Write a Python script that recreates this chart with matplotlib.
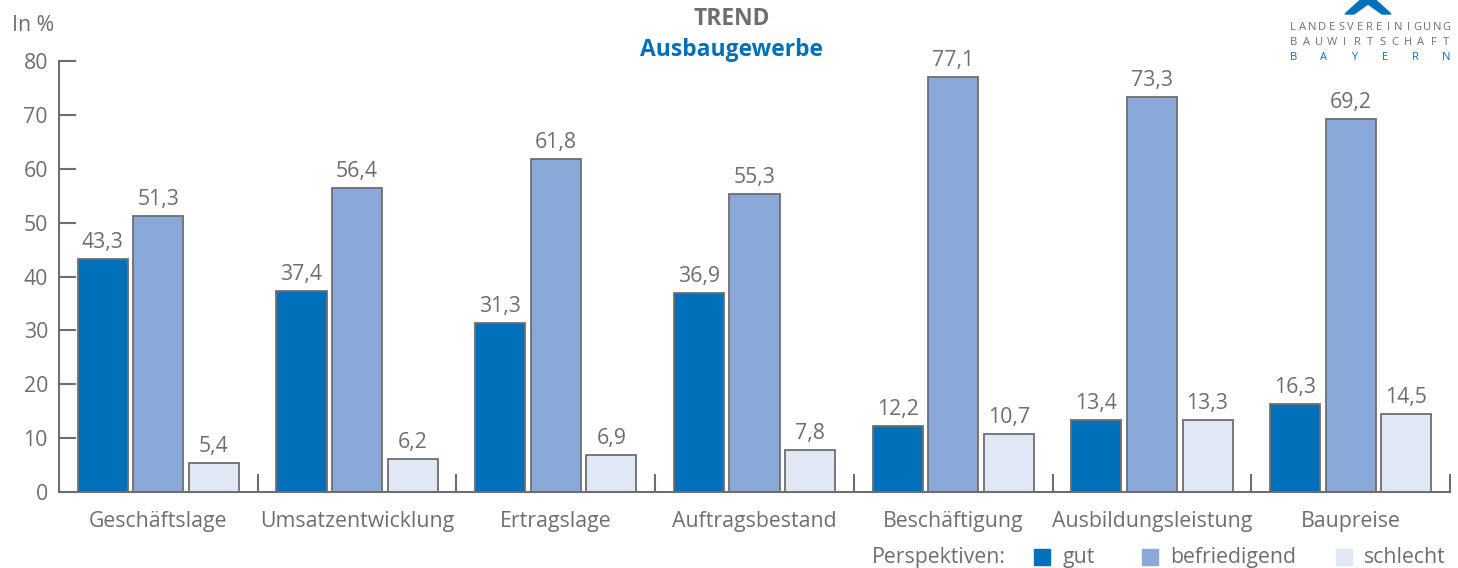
import matplotlib.pyplot as plt
import numpy as np
from matplotlib.patches import Polygon, Rectangle

plt.rcParams['font.family'] = ['Open Sans', 'DejaVu Sans']

# daten
kategorien = ['Geschäftslage', 'Umsatzentwicklung', 'Ertragslage', 'Auftragsbestand',
              'Beschäftigung', 'Ausbildungsleistung', 'Baupreise']
gut = [43.3, 37.4, 31.3, 36.9, 12.2, 13.4, 16.3]
befriedigend = [51.3, 56.4, 61.8, 55.3, 77.1, 73.3, 69.2]
schlecht = [5.4, 6.2, 6.9, 7.8, 10.7, 13.3, 14.5]
serien = ['gut', 'befriedigend', 'schlecht']
y_ticks = [0, 10, 20, 30, 40, 50, 60, 70, 80]

farben = ['#0070ba', '#8aa9d8', '#e1e8f5']
grau = '#6e6e70'
fs = 15.3

fig = plt.figure(figsize=(14.58, 5.68), dpi=100)
ax = fig.add_axes([0.0405, 0.1338, 0.9540, 0.7588])

x = np.arange(len(kategorien))
breite = 0.252
versatz = 0.28
for i, (werte, farbe) in enumerate(zip([gut, befriedigend, schlecht], farben)):
    pos = x + (i - 1) * versatz
    ax.bar(pos, werte, breite, color=farbe, edgecolor=grau, linewidth=1.3, zorder=2)
    for px, v in zip(pos, werte):
        ax.text(px, v + 1.1, f'{v:.1f}'.replace('.', ','), ha='center', va='bottom',
                fontsize=fs, color=grau)

ax.set_xlim(-0.5, len(kategorien) - 0.5)
ax.set_ylim(0, 80)
ax.set_yticks(y_ticks)
ax.tick_params(axis='y', direction='in', length=12, width=1.5, color=grau,
               labelcolor=grau, labelsize=fs, pad=8)
ax.set_xticks(x)
ax.set_xticklabels(kategorien)
ax.tick_params(axis='x', length=0, labelcolor=grau, labelsize=fs, pad=14)

# trennstriche zwischen den gruppen
for b in np.arange(0.5, len(kategorien), 1.0):
    ax.plot([b, b], [0, 3.2], color=grau, lw=1.5, clip_on=False, zorder=3)

for s in ['top', 'right']:
    ax.spines[s].set_visible(False)
for s in ['left', 'bottom']:
    ax.spines[s].set_color(grau)
    ax.spines[s].set_linewidth(1.5)

fig.text(0.008, 0.955, 'In %', fontsize=fs, color=grau, ha='left', va='center')

# titel
fig.text(0.502, 0.966, 'TREND', fontsize=16.5, fontweight='bold', color=grau,
         ha='center', va='center')
fig.text(0.502, 0.912, 'Ausbaugewerbe', fontsize=16.5, fontweight='bold', color='#0070ba',
         ha='center', va='center')

# logo
dach = Polygon([[1345 / 1458, 0.9754], [1368 / 1458, 1.012], [1391 / 1458, 0.9754],
                [1382 / 1458, 0.9754], [1368 / 1458, 0.993], [1354 / 1458, 0.9754]],
               closed=True, transform=fig.transFigure, color='#0070ba')
fig.patches.append(dach)
for wort, yy, farbe in [('LANDESVEREINIGUNG', 0.952, grau), ('BAUWIRTSCHAFT', 0.925, grau),
                        ('BAYERN', 0.898, '#0070ba')]:
    for ch, lx in zip(wort, np.linspace(0.8870, 0.9920, len(wort))):
        fig.text(lx, yy, ch, fontsize=8, color=farbe, ha='center', va='center')

# legende
fig.text(0.598, 0.019, 'Perspektiven:', fontsize=fs, color=grau, ha='left', va='center')
leg_x = [0.7095, 0.7835, 0.9165]
for name, farbe, lx in zip(serien, farben, leg_x):
    fig.patches.append(Rectangle((lx, 0.005), 0.0105, 0.029, transform=fig.transFigure,
                                 color=farbe))
    fig.text(lx + 0.019, 0.019, name, fontsize=fs, color=grau, ha='left', va='center')

fig.savefig('out.png', dpi=100)
